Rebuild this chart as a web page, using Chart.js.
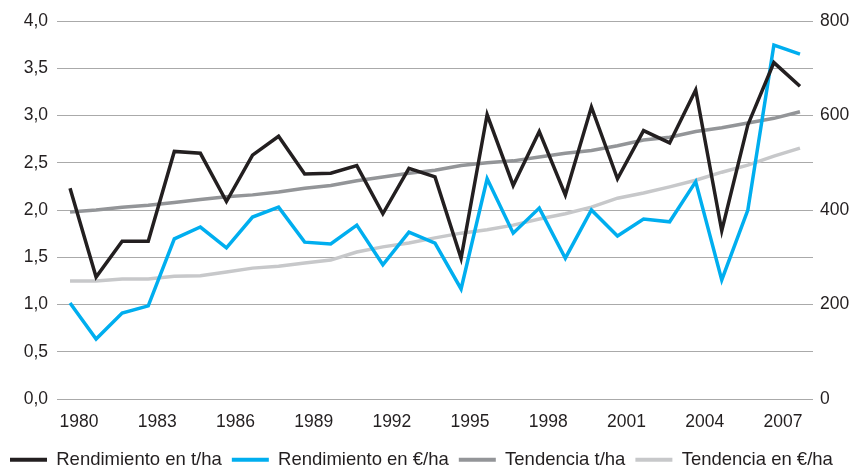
<!DOCTYPE html>
<html><head><meta charset="utf-8">
<script src="https://cdn.jsdelivr.net/npm/chart.js@4.4.1/dist/chart.umd.min.js"></script>
<style>html,body{margin:0;padding:0;background:#fff;}#wrap{width:854px;height:468px;}</style>
</head><body><div id="wrap"><canvas id="c" width="854" height="468"></canvas></div>
<script>
const years = ['1980','1981','1982','1983','1984','1985','1986','1987','1988','1989','1990','1991','1992','1993','1994','1995','1996','1997','1998','1999','2000','2001','2002','2003','2004','2005','2006','2007','2008'];
const yieldTha = [2.23,1.29,1.67,1.67,2.62,2.60,2.09,2.58,2.78,2.38,2.39,2.47,1.96,2.44,2.35,1.49,3.01,2.26,2.83,2.16,3.09,2.33,2.84,2.71,3.27,1.78,2.90,3.56,3.31];
const yieldEur = [203,127,182,197,339,364,320,385,406,332,328,368,284,353,330,233,466,351,404,298,400,345,381,375,460,252,400,749,730];
const trendTha = [1.98,2.00,2.03,2.05,2.08,2.11,2.14,2.16,2.19,2.23,2.26,2.31,2.35,2.39,2.42,2.47,2.50,2.52,2.56,2.60,2.63,2.68,2.74,2.77,2.83,2.87,2.92,2.97,3.04];
const trendEur = [250,250,254,254,260,261,269,277,281,288,294,311,322,330,341,351,358,368,381,392,406,425,436,449,463,480,495,514,531];
const seriesNames = ['Rendimiento en t/ha','Rendimiento en €/ha','Tendencia t/ha','Tendencia en €/ha'];
const seriesColors = ['#231f20','#00aeef','#939598','#c7c8ca'];
const leftAxis = {min: 0, max: 4, step: 0.5};
const rightAxis = {min: 0, max: 800, step: 200};
const labelEvery = 3;

const FONT = 'Liberation Sans, Arial, sans-serif';
const TXT = '#231f20';
function ds(i, data, axis) {
  return {label: seriesNames[i], data: data, yAxisID: axis, borderColor: seriesColors[i], backgroundColor: seriesColors[i],
    borderWidth: 3.5, pointRadius: 0, tension: 0, fill: false, order: i};
}
new Chart(document.getElementById('c'), {
  type: 'line',
  data: {labels: years, datasets: [ds(0, yieldTha, 'y'), ds(1, yieldEur, 'y2'), ds(2, trendTha, 'y'), ds(3, trendEur, 'y2')]},
  options: {
    responsive: false, animation: false, devicePixelRatio: 1,
    layout: {padding: {top: 21, left: 0, right: 0, bottom: -11}},
    plugins: {
      tooltip: {enabled: false},
      legend: {position: 'bottom', align: 'start', labels: {
        boxWidth: 37, boxHeight: 4, padding: 10, color: TXT, font: {family: FONT, size: 18.5},
        generateLabels: (chart) => chart.data.datasets.map((d, i) => ({text: d.label, fillStyle: d.borderColor, strokeStyle: d.borderColor, lineWidth: 0, hidden: false, datasetIndex: i, fontColor: TXT}))
      }}
    },
    scales: {
      x: {type: 'category', offset: true,
        grid: {display: false, drawTicks: false}, border: {display: false},
        ticks: {autoSkip: false, maxRotation: 0, padding: 13, labelOffset: 9, color: TXT, font: {family: FONT, size: 17.5},
          callback: (v, i) => (i % labelEvery === 0 ? years[i] : null)},
        afterFit: (s) => { s.height = 41.5; }
      },
      y: {position: 'left', min: leftAxis.min, max: leftAxis.max,
        grid: {color: '#aaaaaa', lineWidth: 1, drawTicks: false}, border: {display: false},
        ticks: {stepSize: leftAxis.step, padding: 9, color: TXT, font: {family: FONT, size: 17.5},
          callback: (v) => v.toFixed(1).replace('.', ',')},
        afterFit: (s) => { s.width = 57; }
      },
      y2: {position: 'right', min: rightAxis.min, max: rightAxis.max,
        grid: {drawOnChartArea: false, drawTicks: false}, border: {display: false},
        ticks: {stepSize: rightAxis.step, padding: 7, color: TXT, font: {family: FONT, size: 17.5}},
        afterFit: (s) => { s.width = 41; }
      }
    }
  }
});
</script></body></html>
